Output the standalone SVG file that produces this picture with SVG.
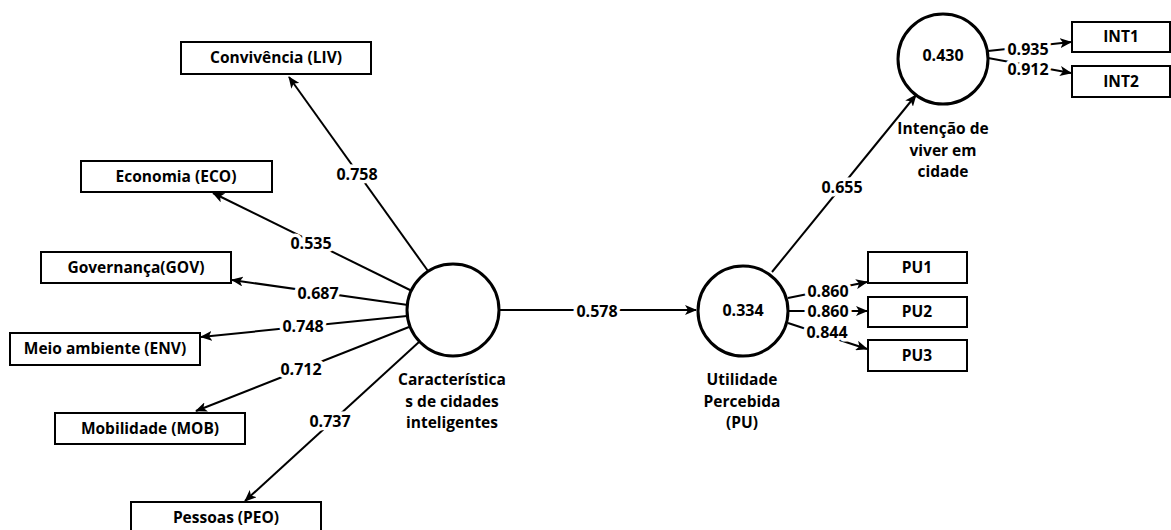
<svg xmlns="http://www.w3.org/2000/svg" width="1171" height="530" viewBox="0 0 1171 530">
<style>
.box{fill:#fff;stroke:#000;stroke-width:2}
.lv{fill:#fff;stroke:#000;stroke-width:3}
.t{font-family:"Open Sans","Liberation Sans",sans-serif;font-weight:700;font-size:15.5px;fill:#000;text-anchor:middle}
.n{font-family:"Open Sans","Liberation Sans",sans-serif;font-weight:700;font-size:16px;fill:#000;text-anchor:middle}
.w{stroke:#fff;stroke-width:7;paint-order:stroke;stroke-linejoin:round}
.c line{stroke:#000;stroke-width:2;marker-end:url(#ah)}
</style>
<defs>
<marker id="ah" markerUnits="userSpaceOnUse" markerWidth="12" markerHeight="10" refX="11" refY="5" orient="auto">
<path d="M0,0 L12,5 L0,10 L3,5 Z" fill="#000"/>
</marker>
</defs>
<rect width="1171" height="530" fill="#fff"/>
<g class="c" id="connectors">
<line x1="428" y1="271" x2="289" y2="77"/>
<line x1="412" y1="291" x2="213" y2="193"/>
<line x1="408" y1="305" x2="232" y2="280"/>
<line x1="407" y1="316" x2="201" y2="337"/>
<line x1="409" y1="327" x2="196" y2="411"/>
<line x1="419" y1="342" x2="245" y2="501"/>
<line x1="499" y1="310" x2="696" y2="310"/>
<line x1="772" y1="272" x2="916" y2="95"/>
<line x1="788" y1="298" x2="867" y2="282"/>
<line x1="789" y1="311" x2="867" y2="311"/>
<line x1="788" y1="323" x2="867" y2="349"/>
<line x1="988" y1="51" x2="1071" y2="42"/>
<line x1="988" y1="58" x2="1071" y2="73"/>
</g>
<g id="path-labels">
<text class="n w" x="357" y="180">0.758</text>
<text class="n w" x="311" y="249">0.535</text>
<text class="n w" x="318" y="299">0.687</text>
<text class="n w" x="303" y="332">0.748</text>
<text class="n w" x="301" y="375">0.712</text>
<text class="n w" x="330" y="427">0.737</text>
<text class="n w" x="597" y="317">0.578</text>
<text class="n w" x="842" y="193">0.655</text>
<text class="n w" x="828" y="297">0.860</text>
<text class="n w" x="828" y="317">0.860</text>
<text class="n w" x="827" y="338">0.844</text>
<text class="n w" x="1028" y="55">0.935</text>
<text class="n w" x="1028" y="75">0.912</text>
</g>
<g id="LIV"><rect class="box" x="181" y="42" width="190" height="32"/><text class="t" x="276" y="63">Convivência (LIV)</text></g>
<g id="ECO"><rect class="box" x="81" y="161" width="191" height="31"/><text class="t" x="176" y="182">Economia (ECO)</text></g>
<g id="GOV"><rect class="box" x="41" y="252" width="190" height="31"/><text class="t" x="136" y="273">Governança(GOV)</text></g>
<g id="ENV"><rect class="box" x="10" y="333" width="190" height="32"/><text class="t" x="105" y="354">Meio ambiente (ENV)</text></g>
<g id="MOB"><rect class="box" x="55" y="413" width="190" height="31"/><text class="t" x="150" y="434">Mobilidade (MOB)</text></g>
<g id="PEO"><rect class="box" x="131" y="502" width="190" height="32"/><text class="t" x="226" y="523">Pessoas (PEO)</text></g>
<g id="CDCI"><circle class="lv" cx="453" cy="310" r="46"/><text class="t"><tspan x="452" y="385">Característica</tspan><tspan x="452" y="407">s de cidades</tspan><tspan x="452" y="428">inteligentes</tspan></text></g>
<g id="PU"><circle class="lv" cx="743" cy="311" r="45"/><text class="n" x="743" y="316">0.334</text><text class="t"><tspan x="742" y="385">Utilidade</tspan><tspan x="742" y="407">Percebida</tspan><tspan x="742" y="428">(PU)</tspan></text></g>
<g id="INT"><circle class="lv" cx="943" cy="59" r="45"/><text class="n" x="943" y="61">0.430</text><text class="t"><tspan x="943" y="134">Intenção de</tspan><tspan x="943" y="156">viver em</tspan><tspan x="943" y="177">cidade</tspan></text></g>
<g id="PU1"><rect class="box" x="868" y="252" width="99" height="31"/><text class="t" x="917" y="273">PU1</text></g>
<g id="PU2"><rect class="box" x="868" y="297" width="99" height="30"/><text class="t" x="917" y="317">PU2</text></g>
<g id="PU3"><rect class="box" x="868" y="340" width="99" height="31"/><text class="t" x="917" y="361">PU3</text></g>
<g id="INT1"><rect class="box" x="1072" y="22" width="98" height="30"/><text class="t" x="1121" y="42">INT1</text></g>
<g id="INT2"><rect class="box" x="1072" y="66" width="98" height="31"/><text class="t" x="1121" y="87">INT2</text></g>
</svg>
